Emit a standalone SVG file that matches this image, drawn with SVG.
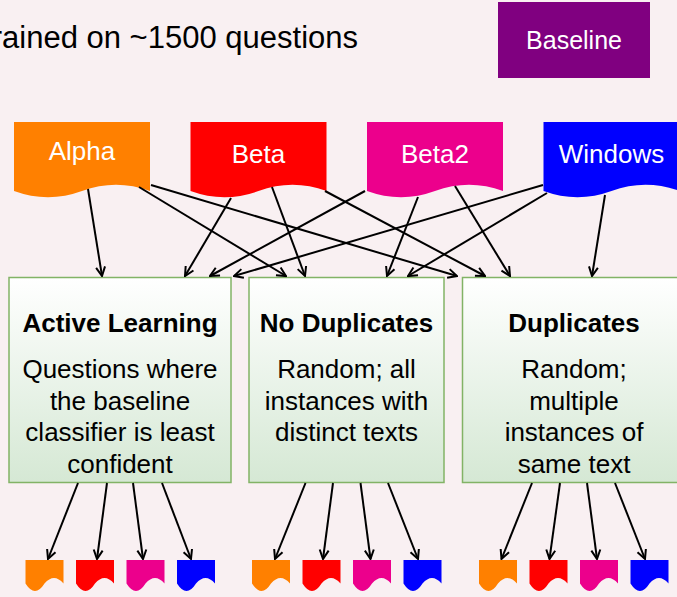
<svg xmlns="http://www.w3.org/2000/svg" xmlns:xlink="http://www.w3.org/1999/xlink" width="677" height="597" viewBox="0 0 677 597">
  <style>
    text { font-family: "Liberation Sans", Arial, Helvetica, sans-serif; font-size: 26px; }
    .w { fill: #ffffff; text-anchor: middle; }
    .b { fill: #000000; text-anchor: middle; }
    .bold { font-weight: bold; }
    .box { fill: url(#g); stroke: #82b366; stroke-width: 1.5; }
    .c path, .c line { stroke: #000000; stroke-width: 2; fill: none; marker-end: url(#arr); }
    .or { fill: #ff8000; }
    .rd { fill: #ff0000; }
    .mg { fill: #ec008c; }
    .bl { fill: #0000ff; }
  </style>
  <defs>
    <linearGradient id="g" x1="0" y1="0" x2="0" y2="1">
      <stop offset="0" stop-color="#ffffff"/>
      <stop offset="1" stop-color="#d5e8d4"/>
    </linearGradient>
    <marker id="arr" viewBox="0 0 12 12" refX="11" refY="6" markerWidth="12" markerHeight="12" markerUnits="userSpaceOnUse" orient="auto">
      <path d="M2,1.5 L11,6 L2,10.5" fill="none" stroke="#000000" stroke-width="2"/>
    </marker>
    <path id="sdoc" d="M0,0 H38 V23.5 Q28.5,12.5 19,23.5 Q9.5,38.5 0,23.5 Z"/>
  </defs>
  <rect width="677" height="597" fill="#f9f0f2"/>

  <g id="title">
    <text x="358" y="47.5" style="font-size:31px" fill="#000000" text-anchor="end">rained on ~1500 questions</text>
  </g>

  <g id="baseline">
    <rect x="498" y="2" width="152" height="76" fill="#800080"/>
    <text class="w" x="574" y="49" style="font-size:25px">Baseline</text>
  </g>

  <g id="alpha">
    <path class="or" d="M14,122 H150 V191 Q116,178.6 82,191 Q48,203.4 14,191 Z"/>
    <text class="w" x="82" y="160">Alpha</text>
  </g>
  <g id="beta">
    <path class="rd" d="M190.5,122 H326.5 V191 Q292.5,178.6 258.5,191 Q224.5,203.4 190.5,191 Z"/>
    <text class="w" x="258.5" y="163">Beta</text>
  </g>
  <g id="beta2">
    <path class="mg" d="M367,122 H503 V191 Q469,178.6 435,191 Q401,203.4 367,191 Z"/>
    <text class="w" x="435" y="163">Beta2</text>
  </g>
  <g id="windows">
    <path class="bl" d="M543.5,122 H679.5 V191 Q645.5,178.6 611.5,191 Q577.5,203.4 543.5,191 Z"/>
    <text class="w" x="611.5" y="163">Windows</text>
  </g>

  <g id="active-learning">
    <rect class="box" x="9" y="277.5" width="222" height="205"/>
    <text class="b bold" x="120" y="332">Active Learning</text>
    <text class="b" x="120" y="377.5">Questions where</text>
    <text class="b" x="120" y="409.5">the baseline</text>
    <text class="b" x="120" y="441">classifier is least</text>
    <text class="b" x="120" y="473">confident</text>
  </g>
  <g id="no-duplicates">
    <rect class="box" x="249" y="277.5" width="195" height="205"/>
    <text class="b bold" x="346.5" y="332">No Duplicates</text>
    <text class="b" x="346.5" y="377.5">Random; all</text>
    <text class="b" x="346.5" y="409.5">instances with</text>
    <text class="b" x="346.5" y="441">distinct texts</text>
  </g>
  <g id="duplicates">
    <rect class="box" x="462.5" y="277.5" width="223" height="205"/>
    <text class="b bold" x="574" y="332">Duplicates</text>
    <text class="b" x="574" y="377.5">Random;</text>
    <text class="b" x="574" y="409.5">multiple</text>
    <text class="b" x="574" y="441">instances of</text>
    <text class="b" x="574" y="473">same text</text>
  </g>

  <g id="out-al">
    <use xlink:href="#sdoc" href="#sdoc" class="or" x="25.5" y="560"/>
    <use xlink:href="#sdoc" href="#sdoc" class="rd" x="76" y="560"/>
    <use xlink:href="#sdoc" href="#sdoc" class="mg" x="126.5" y="560"/>
    <use xlink:href="#sdoc" href="#sdoc" class="bl" x="177" y="560"/>
  </g>
  <g id="out-nd">
    <use xlink:href="#sdoc" href="#sdoc" class="or" x="252" y="560"/>
    <use xlink:href="#sdoc" href="#sdoc" class="rd" x="302.5" y="560"/>
    <use xlink:href="#sdoc" href="#sdoc" class="mg" x="353" y="560"/>
    <use xlink:href="#sdoc" href="#sdoc" class="bl" x="403.5" y="560"/>
  </g>
  <g id="out-dup">
    <use xlink:href="#sdoc" href="#sdoc" class="or" x="479" y="560"/>
    <use xlink:href="#sdoc" href="#sdoc" class="rd" x="529.5" y="560"/>
    <use xlink:href="#sdoc" href="#sdoc" class="mg" x="580" y="560"/>
    <use xlink:href="#sdoc" href="#sdoc" class="bl" x="630.5" y="560"/>
  </g>

  <g id="connectors" class="c">
    <line x1="88" y1="189" x2="102" y2="276"/>
    <line x1="139" y1="187" x2="286" y2="276"/>
    <line x1="151" y1="185" x2="457" y2="276"/>
    <line x1="231" y1="198" x2="185" y2="276"/>
    <line x1="272" y1="187" x2="305" y2="276"/>
    <line x1="325" y1="191" x2="485" y2="276"/>
    <line x1="365" y1="191" x2="210" y2="276"/>
    <line x1="418" y1="197" x2="387" y2="276"/>
    <line x1="455" y1="186" x2="510" y2="276"/>
    <line x1="543" y1="185" x2="234" y2="276"/>
    <line x1="547" y1="193" x2="408" y2="276"/>
    <line x1="605" y1="195" x2="592" y2="276"/>

    <line x1="78" y1="483" x2="48" y2="559"/>
    <line x1="107" y1="483" x2="97" y2="559"/>
    <line x1="133" y1="483" x2="143" y2="559"/>
    <line x1="162" y1="483" x2="191" y2="559"/>

    <line x1="305.5" y1="483" x2="275" y2="559"/>
    <line x1="333" y1="483" x2="323" y2="559"/>
    <line x1="360.5" y1="483" x2="370.5" y2="559"/>
    <line x1="388" y1="483" x2="418" y2="559"/>

    <line x1="532" y1="483" x2="501.5" y2="559"/>
    <line x1="560" y1="483" x2="549.5" y2="559"/>
    <line x1="587" y1="483" x2="597" y2="559"/>
    <line x1="615" y1="483" x2="645" y2="559"/>
  </g>
</svg>
